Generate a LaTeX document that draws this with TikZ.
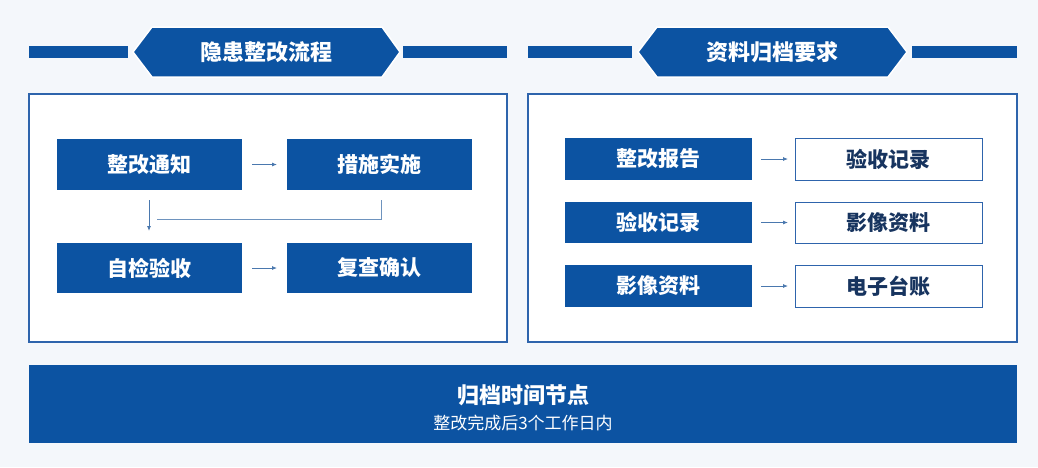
\documentclass[tikz,border=0pt]{standalone}
\usepackage{fontspec}
\newfontfamily\cjk{Noto Sans CJK SC}
\usetikzlibrary{arrows.meta}
\definecolor{bg}{HTML}{F4F7FB}
\definecolor{navy}{HTML}{0C53A2}
\definecolor{frame}{HTML}{2E64AC}
\definecolor{arr}{HTML}{4A78AE}
\definecolor{dtext}{HTML}{17345F}
\tikzset{
  bluebox/.style={fill=navy, draw=none, inner sep=0pt, outer sep=0pt, text=white, font=\cjk\bfseries\fontsize{21}{24}\selectfont},
  whitebox/.style={fill=white, draw=frame, line width=1pt, inner sep=0pt, outer sep=0pt, text=dtext, font=\cjk\bfseries\fontsize{21}{24}\selectfont},
  panel/.style={fill=white, draw=frame, line width=1.3pt},
  bar/.style={fill=navy, draw=none},
  hexa/.style={fill=navy, draw=white, line width=1.5pt},
  conn/.style={draw=arr, line width=0.8pt, -{Latex[length=5pt,width=4pt]}},
  plainline/.style={draw=arr!80, line width=0.8pt},
  headtext/.style={text=white, font=\cjk\bfseries\fontsize{22}{26}\selectfont}
}
\begin{document}
\begin{tikzpicture}[x=1pt,y=-1pt]
\useasboundingbox (0,0) rectangle (1038,467);
\fill[bg] (0,0) rectangle (1038,467);

% left header
\fill[bar] (29,46) rectangle (128,58);
\fill[bar] (403,46) rectangle (507,58);
\filldraw[hexa] (133,52) -- (152,27) -- (382,27) -- (400,52) -- (382,77) -- (152,77) -- cycle;
\node[headtext] (h1) at (266.5,52) {隐患整改流程};

% right header
\fill[bar] (528,46) rectangle (632,58);
\fill[bar] (912,46) rectangle (1017,58);
\filldraw[hexa] (638,52) -- (657,27) -- (888,27) -- (907,52) -- (888,77) -- (657,77) -- cycle;
\node[headtext] (h2) at (772.5,52) {资料归档要求};

% panels
\draw[panel] (29,94) rectangle (507,342);
\draw[panel] (528,94) rectangle (1017,342);

% left flow
\node[bluebox, minimum width=185pt, minimum height=51pt] (n1) at (149.5,164.5) {整改通知};
\node[bluebox, minimum width=185pt, minimum height=51pt] (n2) at (379.5,164.5) {措施实施};
\node[bluebox, minimum width=185pt, minimum height=50pt] (n3) at (149.5,268) {自检验收};
\node[bluebox, minimum width=185pt, minimum height=50pt] (n4) at (379.5,268) {复查确认};

\draw[conn, shorten <=10pt, shorten >=10pt] (n1) -- (n2);
\draw[conn, shorten <=10pt, shorten >=10pt] (n3) -- (n4);
\draw[conn, shorten <=10pt, shorten >=12pt] (n1.south -| 149,0) -- (n3.north -| 149,0);
\coordinate (j) at (157,219);
\draw[plainline] ([xshift=1.5pt,yshift=-10pt]n2.south) |- (j);

% right list
\node[bluebox, minimum width=187pt, minimum height=42pt] (r1) at (658.5,159) {整改报告};
\node[bluebox, minimum width=187pt, minimum height=41pt] (r2) at (658.5,222.5) {验收记录};
\node[bluebox, minimum width=187pt, minimum height=42pt] (r3) at (658.5,286) {影像资料};
\node[whitebox, minimum width=187pt, minimum height=42pt] (w1) at (888.5,159) {验收记录};
\node[whitebox, minimum width=187pt, minimum height=41pt] (w2) at (888.5,222.5) {影像资料};
\node[whitebox, minimum width=187pt, minimum height=42pt] (w3) at (888.5,286) {电子台账};
\draw[conn, shorten <=9pt, shorten >=7pt] (r1) -- (w1);
\draw[conn, shorten <=9pt, shorten >=7pt] (r2) -- (w2);
\draw[conn, shorten <=9pt, shorten >=7pt] (r3) -- (w3);

% banner
\fill[navy] (29,365) rectangle (1017,443);
\node[text=white, font=\cjk\bfseries\fontsize{22}{26}\selectfont] (b1) at (523,395) {归档时间节点};
\node[text=white, font=\cjk\fontsize{17}{20}\selectfont] (b2) at (523,423) {整改完成后3个工作日内};
\end{tikzpicture}
\end{document}
